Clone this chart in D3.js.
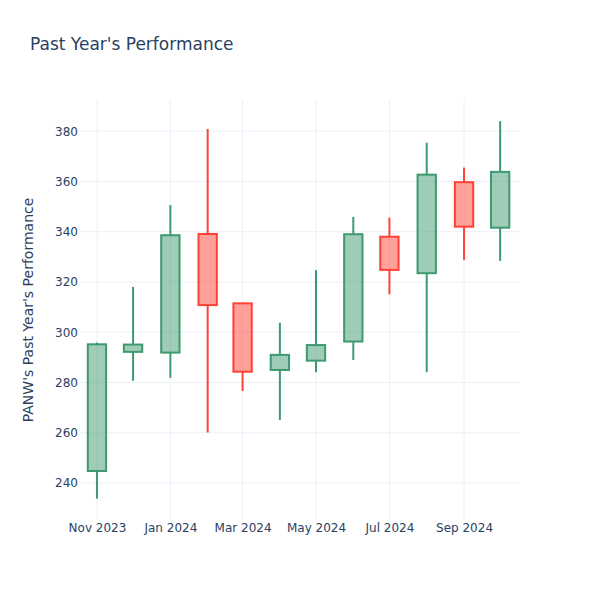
<!DOCTYPE html>
<html>
<head>
<meta charset="utf-8">
<script src="https://cdn.jsdelivr.net/npm/d3@7"></script>
<style>
  html, body { margin: 0; padding: 0; background: #fff; }
  svg { display: block; font-family: "DejaVu Sans", sans-serif; }
</style>
</head>
<body>
<svg id="chart" width="600" height="600"></svg>
<script>
// ---- data (monthly OHLC) ----
const dates = ["2023-11-01","2023-12-01","2024-01-01","2024-02-01","2024-03-01","2024-04-01",
               "2024-05-01","2024-06-01","2024-07-01","2024-08-01","2024-09-01","2024-10-01"];
const opens  = [244.8, 292.2, 291.9, 339.1, 311.5, 285.0, 288.7, 296.3, 338.0, 323.5, 359.7, 341.6];
const highs  = [295.9, 318.0, 350.6, 380.9, 311.6, 303.8, 324.7, 345.9, 345.6, 375.4, 365.5, 384.0];
const lows   = [233.8, 280.7, 281.9, 260.1, 276.6, 265.1, 284.1, 289.0, 315.1, 284.1, 328.8, 328.4];
const closes = [295.2, 295.1, 338.6, 310.8, 284.3, 291.0, 294.9, 339.0, 324.8, 362.7, 342.0, 363.8];
const yTicks = [240, 260, 280, 300, 320, 340, 360, 380];
const xTickDates = ["2023-11-01","2024-01-01","2024-03-01","2024-05-01","2024-07-01","2024-09-01"];
const xTickLabels = ["Nov 2023","Jan 2024","Mar 2024","May 2024","Jul 2024","Sep 2024"];

const title = "Past Year's Performance";
const yTitle = "PANW's Past Year's Performance";

// ---- layout ----
const W = 600, H = 600;
const m = {l: 80, r: 80, t: 100, b: 80};
const incColor = "#3D9970", decColor = "#FF4136";
const textColor = "#2a3f5f", gridColor = "#EBF0F8";
const fontFam = '"DejaVu Sans", sans-serif';

const parse = d3.utcParse("%Y-%m-%d");
const data = dates.map((d, i) => ({
  date: parse(d), open: opens[i], high: highs[i], low: lows[i], close: closes[i]
}));

const svg = d3.select("#chart");

const x = d3.scaleUtc()
  .domain([new Date(Date.UTC(2023, 9, 17, 22)), new Date(Date.UTC(2024, 9, 17, 12))])
  .range([m.l, W - m.r]);
const y = d3.scaleLinear()
  .domain([225.3, 392.4])
  .range([H - m.b, m.t]);

// gridlines
const grid = svg.append("g");
grid.selectAll("line.h").data(yTicks).join("line")
  .attr("x1", m.l).attr("x2", W - m.r)
  .attr("y1", d => y(d)).attr("y2", d => y(d))
  .attr("stroke", gridColor).attr("stroke-width", 1);
grid.selectAll("line.v").data(xTickDates).join("line")
  .attr("x1", d => x(parse(d))).attr("x2", d => x(parse(d)))
  .attr("y1", m.t).attr("y2", H - m.b)
  .attr("stroke", gridColor).attr("stroke-width", 1);

// axes (labels only, plotly style)
const yAxis = d3.axisLeft(y).tickValues(yTicks).tickSize(0).tickPadding(0);
const gy = svg.append("g").attr("transform", `translate(${m.l - 2},0)`).call(yAxis);
gy.select(".domain").remove();
gy.selectAll("text").attr("fill", textColor).style("font-size", "12px")
  .style("font-family", fontFam);

const xAxis = d3.axisBottom(x).tickValues(xTickDates.map(parse))
  .tickFormat((d, i) => xTickLabels[i]).tickSize(0).tickPadding(0);
const gx = svg.append("g").attr("transform", `translate(0,${H - m.b + 3})`).call(xAxis);
gx.select(".domain").remove();
gx.selectAll("text").attr("fill", textColor).style("font-size", "12px")
  .style("font-family", fontFam);

// candles
const monthStep = (x(data[data.length - 1].date) - x(data[0].date)) / (data.length - 1);
const bodyW = monthStep * 0.5;

const candles = svg.append("g").selectAll("g").data(data).join("g");
candles.each(function(d) {
  const g = d3.select(this);
  const up = d.close >= d.open;
  const col = up ? incColor : decColor;
  const cx = x(d.date);
  const top = Math.max(d.open, d.close), bot = Math.min(d.open, d.close);
  g.append("line")
    .attr("x1", cx).attr("x2", cx)
    .attr("y1", y(d.high)).attr("y2", y(top))
    .attr("stroke", col).attr("stroke-width", 2);
  g.append("line")
    .attr("x1", cx).attr("x2", cx)
    .attr("y1", y(bot)).attr("y2", y(d.low))
    .attr("stroke", col).attr("stroke-width", 2);
  g.append("rect")
    .attr("x", cx - bodyW / 2).attr("width", bodyW)
    .attr("y", y(top)).attr("height", Math.max(1, y(bot) - y(top)))
    .attr("fill", col).attr("fill-opacity", 0.5)
    .attr("stroke", col).attr("stroke-width", 2);
});

// title
svg.append("text")
  .attr("x", 30).attr("y", 50)
  .attr("fill", textColor)
  .style("font-size", "17px")
  .style("font-family", fontFam)
  .text(title);

// y axis title
svg.append("text")
  .attr("transform", `translate(33,${(m.t + H - m.b) / 2}) rotate(-90)`)
  .attr("text-anchor", "middle")
  .attr("fill", textColor)
  .style("font-size", "14px")
  .style("font-family", fontFam)
  .text(yTitle);
</script>
</body>
</html>
